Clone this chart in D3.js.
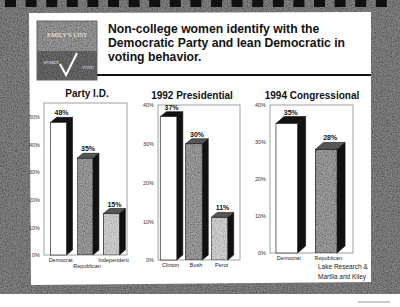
<!DOCTYPE html>
<html>
<head>
<meta charset="utf-8">
<script src="https://cdn.jsdelivr.net/npm/d3@7"></script>
<style>
  body { margin: 0; background: #fff; }
  svg { display: block; font-family: "Liberation Sans", Arial, sans-serif; }
</style>
</head>
<body>
<div id="vis-container"></div>
<script>
// data
var titleLines = ["Non-college women identify with the", "Democratic Party and lean Democratic in", "voting behavior."];

var partyCats = ["Democrat", "Republican", "Independent"];
var partyVals = [48, 35, 15];
var partyTicks = [0, 10, 20, 30, 40, 50];

var presCats = ["Clinton", "Bush", "Perot"];
var presVals = [37, 30, 11];
var presTicks = [0, 10, 20, 30, 40];

var congCats = ["Democrat", "Republican"];
var congVals = [35, 28];
var congTicks = [0, 10, 20, 30, 40];

var sourceLines = ["Lake Research &", "Martila and Kiley"];

var width = 400;
var height = 307;

var svg = d3.select("#vis-container")
	.append("svg")
	.attr("width", width)
	.attr("height", height);

var defs = svg.append("defs");

// speckle texture for the scanned look
function grain(id, freq, k, b) {
	var f = defs.append("filter").attr("id", id)
		.attr("x", 0).attr("y", 0).attr("width", "100%").attr("height", "100%");
	f.append("feTurbulence").attr("type", "fractalNoise")
		.attr("baseFrequency", freq).attr("numOctaves", 2).attr("seed", 4).attr("result", "n");
	f.append("feColorMatrix").attr("in", "n").attr("type", "matrix")
		.attr("values", "0 0 0 0 0  0 0 0 0 0  0 0 0 0 0  " + k + " 0 0 0 " + b).attr("result", "dots");
	f.append("feComposite").attr("in", "dots").attr("in2", "SourceGraphic").attr("operator", "in").attr("result", "d2");
	var m = f.append("feMerge");
	m.append("feMergeNode").attr("in", "SourceGraphic");
	m.append("feMergeNode").attr("in", "d2");
}
grain("grain", 0.8, 1.4, -0.5);
grain("grainBar", 0.9, 1.3, -0.45);
grain("grainLight", 0.9, 1.0, -0.4);

// page border
svg.append("rect").attr("x", 0).attr("y", 0).attr("width", width).attr("height", 294)
	.attr("fill", "#828282").attr("filter", "url(#grain)");

// binding holes
svg.append("g").selectAll("rect")
	.data(d3.range(19))
	.enter().append("rect")
	.attr("x", function(d) { return 5 + d * 20.6; })
	.attr("y", 0)
	.attr("width", 11)
	.attr("height", 7)
	.attr("fill", "#111");

// white slide
svg.append("path")
	.attr("d", "M29,13 L371,12 L371,282 L31,285 Z")
	.attr("fill", "#fff");

// scan artifact
svg.append("line").attr("x1", 358).attr("x2", 390).attr("y1", 302).attr("y2", 302)
	.attr("stroke", "#999").attr("stroke-width", 1);

// logo
var logo = svg.append("g");
logo.append("rect").attr("x", 37).attr("y", 21).attr("width", 60).attr("height", 30)
	.attr("fill", "#9a9a9a").attr("filter", "url(#grain)");
logo.append("rect").attr("x", 37).attr("y", 51).attr("width", 60).attr("height", 29)
	.attr("fill", "#6a6a6a").attr("filter", "url(#grain)");
logo.append("rect").attr("x", 37).attr("y", 21).attr("width", 60).attr("height", 59)
	.attr("fill", "none").attr("stroke", "#666").attr("stroke-width", 1);
logo.append("text").attr("x", 67).attr("y", 37).attr("text-anchor", "middle")
	.style("font-family", "'Liberation Serif', serif").style("font-size", "6.5px")
	.attr("fill", "#f4f4f4").text("EMILY'S LIST");
logo.append("text").attr("x", 51).attr("y", 64).attr("text-anchor", "middle")
	.style("font-family", "'Liberation Serif', serif").style("font-size", "4px")
	.attr("fill", "#eee").text("WOMEN");
logo.append("text").attr("x", 88).attr("y", 69).attr("text-anchor", "middle")
	.style("font-family", "'Liberation Serif', serif").style("font-size", "4px")
	.attr("fill", "#eee").text("VOTE!");
logo.append("path").attr("d", "M60,64 L66,75 L77,53")
	.attr("fill", "none").attr("stroke", "#fff").attr("stroke-width", 2);

// title
svg.append("g").selectAll("text")
	.data(titleLines)
	.enter().append("text")
	.attr("x", 108)
	.attr("y", function(d, i) { return 33 + i * 14; })
	.style("font-size", "12.2px")
	.style("font-weight", "bold")
	.attr("fill", "#111")
	.text(function(d) { return d; });

svg.append("line").attr("x1", 97).attr("x2", 371).attr("y1", 75).attr("y2", 75)
	.attr("stroke", "#111").attr("stroke-width", 2);

// bar fills: white, dark stipple, light stipple
var fills = ["#fff", "#a0a0a0", "#cfcfcf"];

function drawChart(cfg) {
	var g = svg.append("g");

	var y = d3.scaleLinear().domain([0, cfg.max]).range([cfg.y1, cfg.y0]);
	var x = d3.scaleBand().domain(cfg.cats).range(cfg.xr)
		.paddingInner(cfg.pi).paddingOuter(cfg.po);

	g.append("text")
		.attr("x", cfg.tx).attr("y", cfg.y0 - 6)
		.attr("text-anchor", "middle")
		.style("font-size", "10px").style("font-weight", "bold")
		.attr("fill", "#111")
		.text(cfg.title);

	g.append("rect")
		.attr("x", cfg.x0).attr("y", cfg.y0)
		.attr("width", cfg.x1 - cfg.x0).attr("height", cfg.y1 - cfg.y0)
		.attr("fill", "none").attr("stroke", "#888").attr("stroke-width", 0.8);

	var yaxis = d3.axisLeft(y).tickValues(cfg.ticks).tickSize(0).tickPadding(4)
		.tickFormat(function(d) { return d + "%"; });
	var ag = g.append("g").attr("transform", "translate(" + cfg.x0 + ",0)").call(yaxis);
	ag.select(".domain").remove();
	ag.selectAll("text").style("font-size", "5.5px").attr("fill", "#333")
		.style("font-family", "'Liberation Sans', Arial, sans-serif");

	var dx = cfg.depth, dy = cfg.depth - 1;
	var bars = g.selectAll(".bar")
		.data(cfg.vals)
		.enter().append("g");

	bars.append("path")
		.attr("d", function(d, i) {
			var bx = x(cfg.cats[i]) + x.bandwidth(), t = y(d), b = y(0);
			return "M" + bx + "," + t + "L" + (bx + dx) + "," + (t - dy) + "L" + (bx + dx) + "," + (b - dy) + "L" + bx + "," + b + "Z";
		})
		.attr("fill", "#111").attr("stroke", "#111").attr("stroke-width", 0.6);

	bars.append("path")
		.attr("d", function(d, i) {
			var bx = x(cfg.cats[i]), w = x.bandwidth(), t = y(d);
			return "M" + bx + "," + t + "L" + (bx + dx) + "," + (t - dy) + "L" + (bx + w + dx) + "," + (t - dy) + "L" + (bx + w) + "," + t + "Z";
		})
		.attr("fill", function(d, i) { return i === 0 ? "#111" : "#555"; })
		.attr("stroke", "#111").attr("stroke-width", 0.6);

	bars.append("rect")
		.attr("x", function(d, i) { return x(cfg.cats[i]); })
		.attr("y", function(d) { return y(d); })
		.attr("width", x.bandwidth())
		.attr("height", function(d) { return y(0) - y(d); })
		.attr("fill", function(d, i) { return fills[i]; })
		.attr("filter", function(d, i) { return i === 0 ? null : (i === 1 ? "url(#grainBar)" : "url(#grainLight)"); })
		.attr("stroke", "#222").attr("stroke-width", 0.7);

	bars.append("text")
		.attr("x", function(d, i) { return x(cfg.cats[i]) + (x.bandwidth() + dx) / 2; })
		.attr("y", function(d) { return y(d) - dy - 2; })
		.attr("text-anchor", "middle")
		.style("font-size", "7px").style("font-weight", "bold")
		.attr("fill", "#111")
		.text(function(d) { return d + "%"; });

	g.selectAll(".cat")
		.data(cfg.cats)
		.enter().append("text")
		.attr("x", function(d) { return x(d) + x.bandwidth() / 2 + 2; })
		.attr("y", function(d, i) { return cfg.y1 + 7 + (cfg.stagger && i % 2 === 1 ? 6 : 0); })
		.attr("text-anchor", "middle")
		.style("font-size", "5.5px")
		.attr("fill", "#222")
		.text(function(d) { return d; });
}

drawChart({ title: "Party I.D.", tx: 87, cats: partyCats, vals: partyVals, ticks: partyTicks, max: 55,
	x0: 44, x1: 127, y0: 103, y1: 255, xr: [48, 122], pi: 0.4, po: 0.1, depth: 6, stagger: true });
drawChart({ title: "1992 Presidential", tx: 192, cats: presCats, vals: presVals, ticks: presTicks, max: 40,
	x0: 158, x1: 240, y0: 105, y1: 260, xr: [159, 229], pi: 0.35, po: 0.05, depth: 6, stagger: false });
drawChart({ title: "1994 Congressional", tx: 312, cats: congCats, vals: congVals, ticks: congTicks, max: 40,
	x0: 270, x1: 353, y0: 105, y1: 253, xr: [272, 341], pi: 0.45, po: 0.1, depth: 8, stagger: false });

// source note
svg.append("g").selectAll("text")
	.data(sourceLines)
	.enter().append("text")
	.attr("x", 318)
	.attr("y", function(d, i) { return 269 + i * 9.5; })
	.style("font-size", "6.5px")
	.attr("fill", "#222")
	.text(function(d) { return d; });
</script>
</body>
</html>
